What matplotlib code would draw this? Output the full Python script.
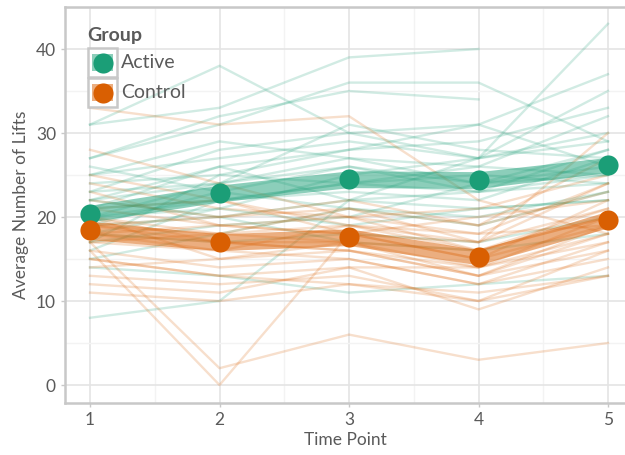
import numpy as np
import matplotlib
matplotlib.use("Agg")
import matplotlib.pyplot as plt
from matplotlib.patches import Rectangle
from matplotlib.ticker import MultipleLocator

plt.rcParams['font.family'] = ['Lato', 'DejaVu Sans']

time_points = [1, 2, 3, 4, 5]
nan = np.nan

active_lines = [
    [31, 33, 39, 40, nan],
    [31, 38, 30, 27, 30],
    [27, 31, 36, 36, 29],
    [27, 32, 35, 34, nan],
    [23, 28, 30, 31, 37],
    [25, 27, 29, 27, 35],
    [22, 26, 28, 29, 33],
    [20, 24, 27, 26, 32],
    [24, 25, 24, 23, 28],
    [21, 22, 23, 22, 27],
    [19, 23, 26, 24, 26],
    [18, 21, 25, 27, 29],
    [22, 20, 22, 23, 25],
    [17, 19, 20, 24, 28],
    [16, 22, 24, 25, 24],
    [20, 21, 19, 21, 22],
    [8, 10, 22, 27, 43],
    [18, 17, 18, 17, 20],
    [15, 18, 21, 20, 23],
    [23, 24, 26, 23, 24],
    [19, 20, 17, 16, 18],
    [21, 26, 22, 21, 22],
    [14, 13, 11, 12, 13],
    [25, 29, 27, 24, 25],
    [20, 22, 24, 26, 25],
    [26, 23, 21, 19, 23],
    [17, 25, 28, 31, 26],
    [22, 24, 31, 28, 27],
]

control_lines = [
    [33, 31, 32, 22, 18],
    [16, 0, 18, 20, 22],
    [17, 2, 6, 3, 5],
    [20, 17, 17, 13, 18],
    [18, 16, 15, 12, 17],
    [19, 18, 19, 16, 20],
    [15, 13, 14, 9, 14],
    [22, 20, 21, 17, 21],
    [21, 19, 18, 15, 19],
    [13, 12, 13, 10, 16],
    [11, 10, 12, 11, 13],
    [24, 21, 20, 18, 24],
    [25, 22, 19, 17, 30],
    [14, 15, 16, 13, 19],
    [18, 17, 16, 14, 20],
    [19, 20, 22, 19, 23],
    [16, 14, 15, 12, 15],
    [20, 18, 17, 16, 21],
    [12, 11, 14, 14, 17],
    [23, 19, 18, 15, 22],
    [17, 16, 19, 18, 19],
    [21, 22, 18, 17, 24],
    [15, 13, 12, 10, 13],
    [18, 19, 20, 21, 25],
    [19, 17, 16, 13, 16],
    [28, 24, 20, 16, 20],
    [17, 18, 21, 19, 27],
    [20, 15, 17, 14, 18],
]

active_mean = [20.4, 22.8, 24.5, 24.4, 26.2]
control_mean = [18.4, 17.0, 17.6, 15.2, 19.7]
active_se = [1.0, 1.0, 1.0, 1.0, 0.9]
control_se = [1.1, 1.0, 1.0, 0.9, 1.0]

groups = ["Active", "Control"]
colors = {"Active": "#1b9e77", "Control": "#d95f02"}

W, H = 625, 455
fig = plt.figure(figsize=(W / 100, H / 100), dpi=100)
ax = fig.add_axes([65 / W, (H - 403) / H, 560 / W, 396 / H])

xpx = lambda p: 1 + (p - 90) / 129.5
ax.set_xlim(xpx(65), xpx(625))
ax.set_ylim(-18 / 8.4, 378 / 8.4)

ax.xaxis.set_major_locator(MultipleLocator(1))
ax.xaxis.set_minor_locator(MultipleLocator(0.5))
ax.yaxis.set_major_locator(MultipleLocator(10))
ax.yaxis.set_minor_locator(MultipleLocator(5))
ax.grid(which='major', color='#e4e4e4', linewidth=1.2)
ax.grid(which='minor', color='#f3f3f3', linewidth=1.0)
ax.set_axisbelow(True)

for ln in active_lines:
    ax.plot(time_points, ln, color=colors["Active"], alpha=0.2, lw=1.7, zorder=2)
for ln in control_lines:
    ax.plot(time_points, ln, color=colors["Control"], alpha=0.2, lw=1.7, zorder=2)

for g, m, se in [("Active", active_mean, active_se), ("Control", control_mean, control_se)]:
    m = np.array(m); se = np.array(se)
    ax.fill_between(time_points, m - se, m + se, color=colors[g], alpha=0.5, lw=0, zorder=3)
    ax.plot(time_points, m, 'o', color=colors[g], ms=14.5, mec='none', zorder=5, clip_on=False)

for s in ['left', 'bottom', 'top']:
    ax.spines[s].set_color('#c8c8c8')
    ax.spines[s].set_linewidth(1.8)
ax.spines['right'].set_visible(False)

ax.tick_params(which='major', colors='#c8c8c8', length=3, width=1, labelcolor='#5a5a5a', labelsize=12.5)
ax.tick_params(which='minor', length=0)
ax.set_xticks(time_points)
ax.set_xticklabels([str(t) for t in time_points])
ax.set_xlabel("Time Point", color='#5a5a5a', fontsize=12.5, labelpad=3)
ax.set_ylabel("Average Number of Lifts", color='#5a5a5a', fontsize=12.5, labelpad=5)

# legend (drawn manually in pixel coordinates)
def fx(p): return p / W
def fy(p): return 1 - p / H
fig.text(fx(87), fy(35), "Group", fontsize=14, fontweight='bold', color='#5a5a5a', va='center', ha='left')
for i, g in enumerate(groups):
    top = 48 + i * 30
    fig.add_artist(Rectangle((fx(88), fy(top + 29)), 29 / W, 29 / H, transform=fig.transFigure,
                             facecolor='white', edgecolor='#c8c8c8', lw=1.8, zorder=10))
    fig.add_artist(Rectangle((fx(92), fy(top + 23)), 21 / W, 17 / H, transform=fig.transFigure,
                             facecolor=colors[g], alpha=0.5, edgecolor='none', zorder=11))
    fig.add_artist(plt.Line2D([fx(102.5)], [fy(top + 14.5)], marker='o', ms=14.5, color=colors[g],
                              mec='none', transform=fig.transFigure, zorder=12))
    fig.text(fx(121), fy(top + 14.5), g, fontsize=14, color='#5a5a5a', va='center', ha='left', zorder=12)

fig.savefig("out.png", dpi=100)
